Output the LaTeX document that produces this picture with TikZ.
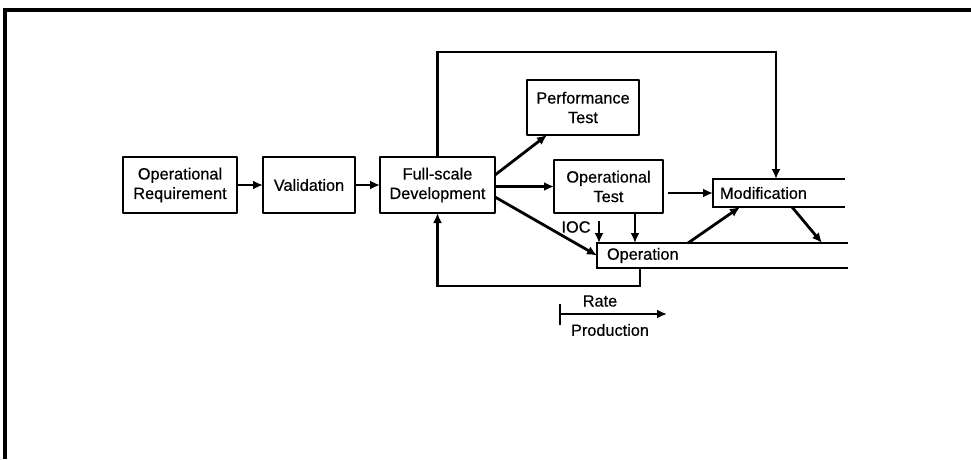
\documentclass[tikz,border=0pt]{standalone}
\usepackage{fontspec}
\setmainfont{Liberation Sans}
\newfontfamily\diafont[FakeBold=0.5]{Liberation Sans}
\usetikzlibrary{arrows.meta,calc}
\begin{document}
\begin{tikzpicture}[x=1pt,y=-1pt,
  line width=2.8pt,
  every node/.style={font=\diafont\fontsize{16.3}{19.5}\selectfont, inner sep=0pt, outer sep=0pt},
  stepbox/.style={draw, rectangle, align=center, line join=round},
  openbox/.style={rectangle, align=left},
  arr/.style={-{Latex[length=10pt,width=9pt]}},
  lbl/.style={}
]
\useasboundingbox (0,0) rectangle (971,459);

% frame
\draw[line width=3.2pt] (5,459) -- (5,10) -- (971,10);

% boxes
\node[stepbox, minimum width=114pt, minimum height=56pt] (req) at (180,185) {Operational\\Requirement};
\node[stepbox, minimum width=92pt, minimum height=56pt] (val) at (309,185) {Validation};
\node[stepbox, minimum width=115pt, minimum height=56pt] (fsd) at (437.5,185) {Full-scale\\Development};
\node[stepbox, minimum width=112pt, minimum height=55pt] (perf) at (583,107.5) {Performance\\Test};
\node[stepbox, minimum width=109pt, minimum height=53pt] (optest) at (608.5,186.5) {Operational\\Test};

% open-ended boxes
\node[openbox, text width=118pt, inner xsep=7pt, minimum height=28pt, anchor=west] (mod) at (713,193) {Modification};
\draw (mod.north east) -- (mod.north west) -- (mod.south west) -- (mod.south east);
\node[openbox, text width=231pt, inner xsep=10pt, minimum height=25pt, anchor=west] (op) at (597,255.5) {Operation};
\draw (op.north east) -- (op.north west) -- (op.south west) -- (op.south east);

% main chain
\draw[arr] (req) -- (val);
\draw[arr] (val) -- (fsd);

% upper feedback loop to modification
\coordinate (toprow) at (0,52);
\draw[arr] (fsd.north) -- (fsd.north |- toprow) -| ([xshift=-3pt]mod.north);

% lower feedback loop from operation
\coordinate (opout) at (640,268);
\coordinate (botrow) at (0,286);
\draw[arr] (opout) -- (opout |- botrow) -| (fsd.south);

% branches out of development
\draw[arr] ([yshift=10pt]fsd.east) -- ([xshift=20pt]perf.south west);
\draw[arr] (fsd.east |- optest.west) -- (optest.west);
\draw[arr] ([yshift=-12pt]fsd.east) -- (op.west);

% test to modification and operation
\draw[arr] ($(optest.east |- mod.west)+(5pt,0)$) -- (mod.west);
\coordinate (ocol) at (635,0);
\draw[arr] (optest.south -| ocol) -- (op.north -| ocol);

% initial operational capability
\node[lbl] (ioc) at (576,227) {IOC};
\coordinate (iocarrow) at (599,221);
\draw[arr] (iocarrow) -- (iocarrow |- op.north);

% operation <-> modification
\draw[arr] ([xshift=91pt]op.north west) -- ([xshift=27pt]mod.south west);
\draw[arr] ([xshift=79pt]mod.south west) -- ([xshift=225pt]op.north west);

% rate production
\coordinate (rs) at (560,314);
\coordinate (re) at (667,314);
\draw[arr] (rs) -- (re);
\draw ($(rs)+(0,-10)$) -- ($(rs)+(0,11)$);
\node[lbl] (rate) at (600,301) {Rate};
\node[lbl] (prod) at (610,330) {Production};
\end{tikzpicture}
\end{document}
